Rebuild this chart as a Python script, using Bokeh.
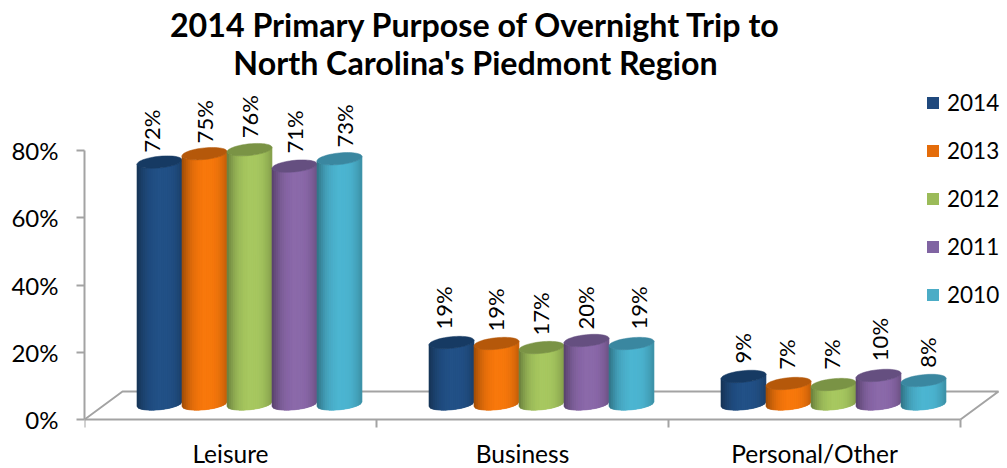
import numpy as np
from bokeh.embed import file_html
from bokeh.resources import INLINE
from bokeh.plotting import figure
from bokeh.core.properties import value
from bokeh.models import (ColumnDataSource, FixedTicker, Label, Legend, LegendItem, LinearAxis,
                          PrintfTickFormatter, Range1d)

categories = ["Leisure", "Business", "Personal/Other"]
years = ["2014", "2013", "2012", "2011", "2010"]
# printed data labels (%)
label_2014 = [72, 19, 9]
label_2013 = [75, 19, 7]
label_2012 = [76, 17, 7]
label_2011 = [71, 20, 10]
label_2010 = [73, 19, 8]
labels = [label_2014, label_2013, label_2012, label_2011, label_2010]
# bar heights (%)
v2014 = [72.0, 18.3, 8.2]
v2013 = [74.5, 18.0, 6.1]
v2012 = [75.7, 16.8, 5.8]
v2011 = [70.8, 18.9, 8.5]
v2010 = [73.0, 18.0, 7.0]
series = [v2014, v2013, v2012, v2011, v2010]
title_text = "2014 Primary Purpose of Overnight Trip to\nNorth Carolina's Piedmont Region"

# manual placement of the data labels, in px, per series then category
label_dx = [[-8.5, -8, -1], [-0.5, -1, -2], [-0.5, -1, -2], [-0.5, -1, 1], [4.5, 7, 4]]
label_gap = [[9.3, 13, 13], [10.3, 12, 13.7], [11.3, 12, 14.7], [12.5, 11, 14.3], [11.3, 14, 12.7]]

base_colors = ["#1f497d", "#e46c0a", "#9bbb59", "#8064a2", "#4bacc6"]
bright_colors = ["#235288", "#f9790d", "#a8c961", "#8c6aab", "#4db6d2"]
top_colors = ["#163a63", "#b5580a", "#7a9345", "#654f80", "#3a87a0"]
FONT = "Lato"

# pixel geometry (figure px)
W, H = 1007, 468
FL, FB_PX = 84, 419
PX_PER_CAT, PX_PER_PCT = 292.0, 3.36
xu = lambda px: px / PX_PER_CAT
yu = lambda px: px / PX_PER_PCT

p = figure(width=W, height=H, output_backend="svg", toolbar_location=None,
           x_range=Range1d(0, (W - FL) / PX_PER_CAT),
           y_range=Range1d(-(H - FB_PX) / PX_PER_PCT, FB_PX / PX_PER_PCT),
           x_axis_type=None, y_axis_type=None,
           min_border_left=FL, min_border_right=0, min_border_top=0, min_border_bottom=0)
p.outline_line_color = None
p.background_fill_color = "white"
p.border_fill_color = "white"
p.xgrid.visible = False
p.ygrid.visible = False

p.add_layout(Label(x=391, y=H - 4, x_units="screen", y_units="screen", text=title_text,
                   text_align="center", text_baseline="top", text_font=FONT, text_font_size="32.2px",
                   text_font_style="bold", text_color="black", text_line_height=0.985))

# axes
GRAY = "#a3a3a3"
yax = LinearAxis(ticker=FixedTicker(ticks=[0, 20, 40, 60, 80]), formatter=PrintfTickFormatter(format="%d%%"),
                 bounds=(0, 80), axis_line_color=GRAY, axis_line_width=2,
                 major_tick_line_color=GRAY, major_tick_line_width=2, major_tick_in=0, major_tick_out=8,
                 minor_tick_line_color=None, major_label_text_font=FONT, major_label_text_font_size="24px",
                 major_label_text_color="black", major_label_standoff=18)
p.add_layout(yax, "left")

centers = [i + 0.5 for i in range(len(categories))]
boundaries = [i for i in range(len(categories) + 1)]
xax = LinearAxis(ticker=FixedTicker(ticks=centers, minor_ticks=boundaries), fixed_location=0,
                 major_label_overrides={c: n for c, n in zip(centers, categories)},
                 bounds=(0, len(categories)), axis_line_color=GRAY, axis_line_width=2,
                 major_tick_line_color=None, major_tick_in=0, major_tick_out=0,
                 minor_tick_line_color=GRAY, minor_tick_line_width=2, minor_tick_in=0, minor_tick_out=8,
                 major_label_text_font=FONT, major_label_text_font_size="24.5px",
                 major_label_text_color="black", major_label_standoff=11)
p.add_layout(xax, "below")

# floor
DX, DY = xu(38), yu(28)
n = len(categories)
xend = xu(914)
p.line([0, DX, xend, n], [0, DY, DY, 0], line_color=GRAY, line_width=2)

# cylinders
BAR = 45.0
SKEW = 19.0
BASE = yu(15.5)
RY, TILT = 5.8, 2.2
STRIPS = 22
prof = np.linspace(-1, 1, STRIPS + 1)
mids = (prof[:-1] + prof[1:]) / 2

def hexrgb(h):
    return np.array([int(h[i:i + 2], 16) for i in (1, 3, 5)], float)

def shade(bright, t):
    k = np.clip(1 - (abs(t - 0.12) / 1.12) ** 2.4, 0, 1)
    k = 0.62 + 0.38 * k
    rgb = hexrgb(bright) * k
    return "#%02x%02x%02x" % tuple(int(v) for v in np.clip(rgb, 0, 255))

legend_items = []
for s, vals in enumerate(series):
    cx0 = [c + xu(SKEW) + xu(BAR) * (s - 2) for c in centers]
    xs, ys, cols = [], [], []
    bx, by = [], []
    tx, ty = [], []
    for cx, v in zip(cx0, vals):
        top = BASE + v
        hw = xu(BAR) / 2
        for a, b, m in zip(prof[:-1], prof[1:], mids):
            r = np.linspace(a, b, 3)
            low = -yu(RY) * np.sqrt(1 - r ** 2) + yu(TILT) * r
            xs.append(list(cx + hw * r) + list(cx + hw * r[::-1]))
            ys.append(list(BASE + low) + list((top + low)[::-1]))
            cols.append(shade(bright_colors[s], m))
        th = np.linspace(0, 2 * np.pi, 61)
        tx.append(list(cx + hw * np.cos(th)))
        ty.append(list(top + yu(RY) * np.sin(th) + yu(TILT) * np.cos(th)))
        rr = np.linspace(-1, 1, 41)
        low = -yu(RY) * np.sqrt(1 - rr ** 2) + yu(TILT) * rr
        bx.append(list(cx + hw * rr) + list(cx + hw * rr[::-1]))
        by.append(list(BASE + low) + list((top + low)[::-1]))
    flat = p.patches(bx, by, fill_color=base_colors[s], line_color=None)
    legend_items.append(LegendItem(label=years[s], renderers=[flat]))
    p.patches("xs", "ys", source=ColumnDataSource(dict(xs=xs, ys=ys, c=cols)),
              fill_color="c", line_color="c", line_width=0.6)
    p.patches(tx, ty, fill_color=top_colors[s], line_color=top_colors[s], line_width=0.5)

    lab = ColumnDataSource(dict(x=[c + xu(d) for c, d in zip(cx0, label_dx[s])],
                                y=[BASE + v + yu(g) for v, g in zip(vals, label_gap[s])],
                                t=["%d%%" % v for v in labels[s]]))
    p.text("x", "y", text="t", source=lab, angle=np.pi / 2, text_align="left", text_baseline="middle",
           text_font=value(FONT), text_font_size="22px", text_color="black")

leg = Legend(items=legend_items, location=(841, 160), orientation="vertical",
             background_fill_alpha=0, border_line_color=None, padding=0, margin=0,
             glyph_width=15, glyph_height=15, label_standoff=7, spacing=21,
             label_text_font=FONT, label_text_font_size="22.5px", label_text_color="black")
p.add_layout(leg, "center")

open("out.html", "w").write(file_html(p, INLINE))
